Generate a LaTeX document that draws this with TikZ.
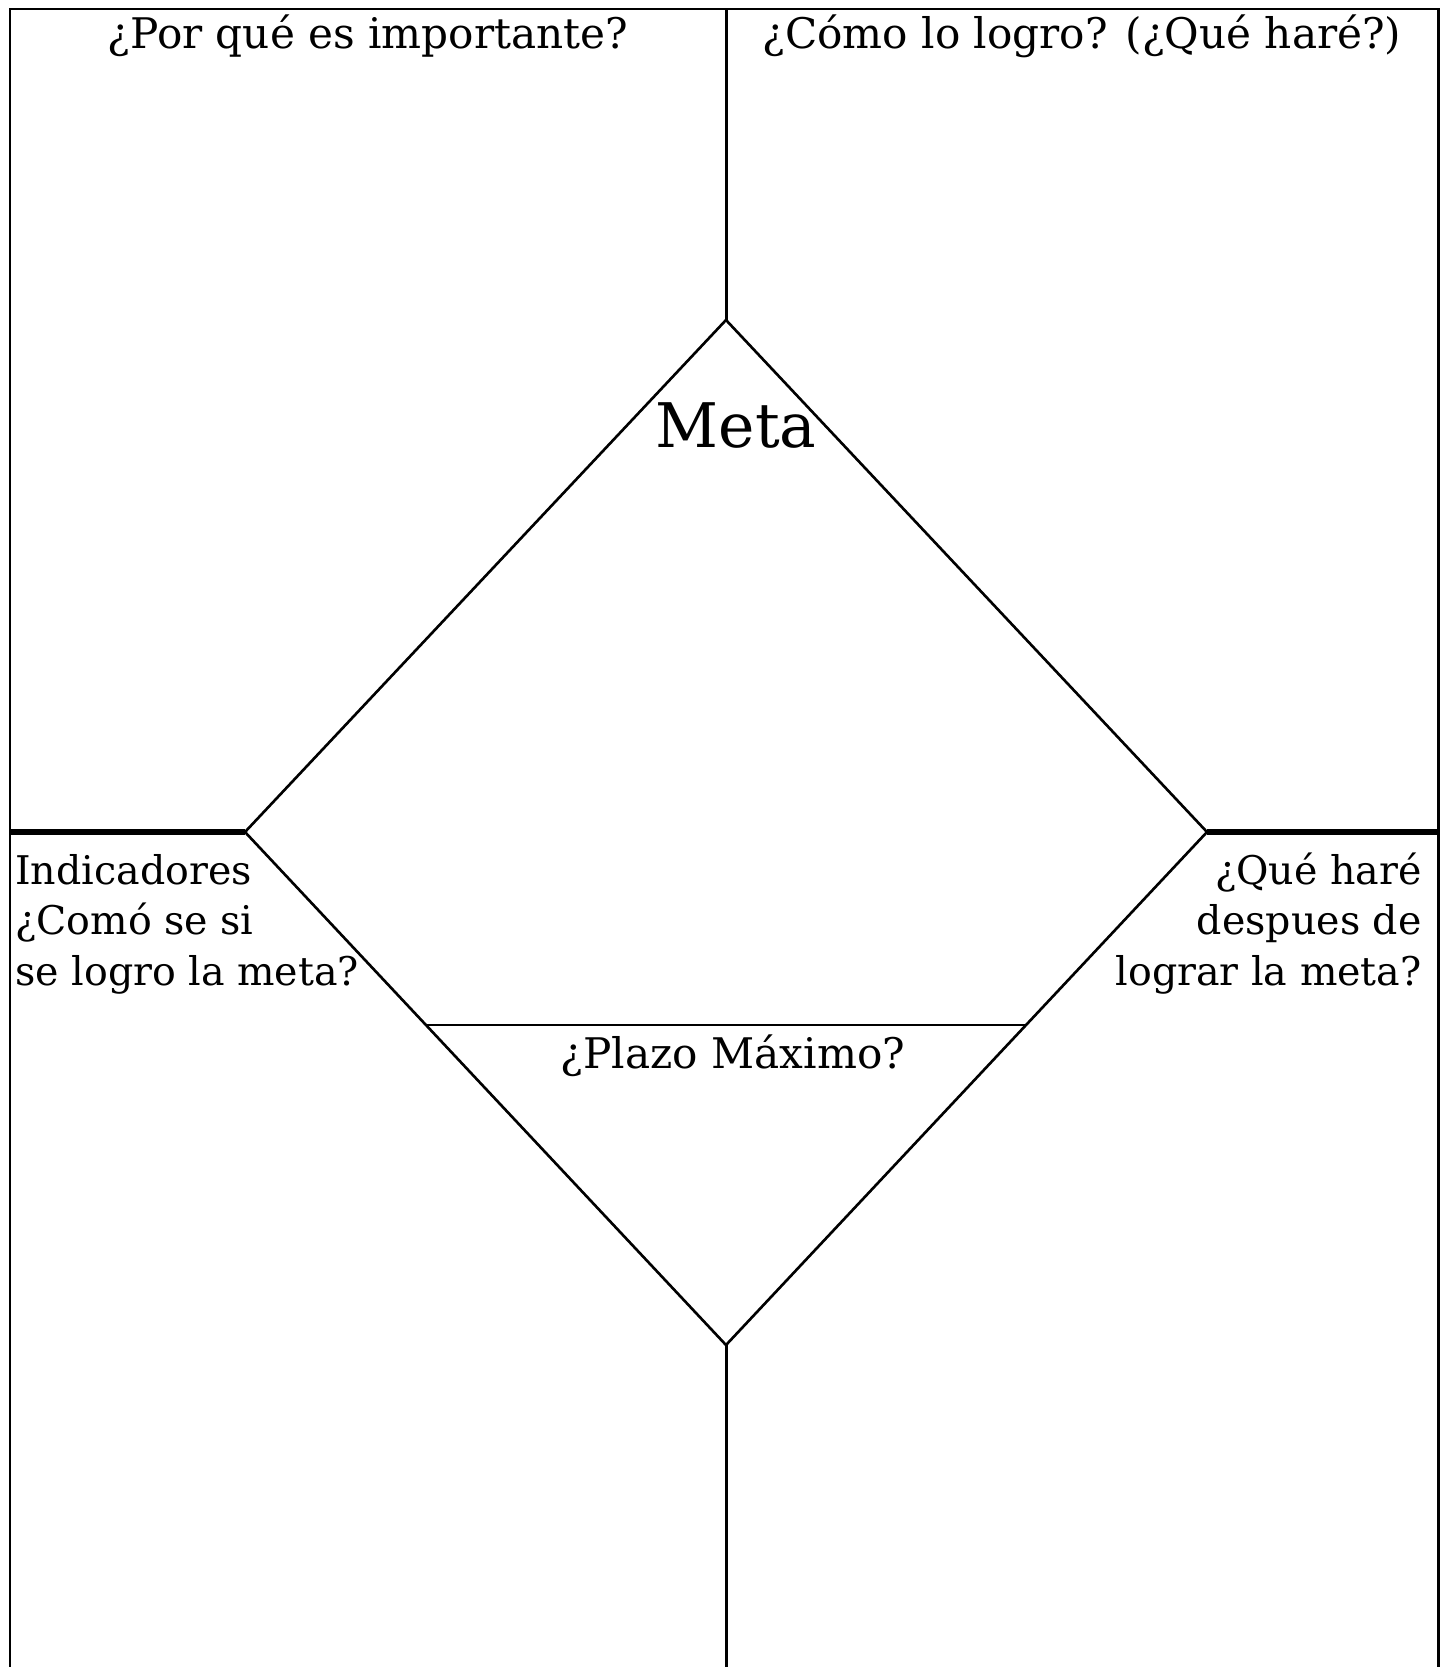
\documentclass[tikz,border=0pt]{standalone}
\usepackage{fontspec}
\setmainfont{DejaVu Serif}
\usetikzlibrary{calc}

\begin{document}
\begin{tikzpicture}[
    x=0.02cm, y=-0.02cm,
    frame/.style={line width=1.7pt},
    divider/.style={line width=3pt},
    edge/.style={line width=1.5pt},
    question/.style={inner sep=0pt, font=\fontsize{24}{28.5}\selectfont},
    side/.style={inner sep=0pt, font=\fontsize{22.5}{28.5}\selectfont},
    goal/.style={inner sep=0pt, font=\fontsize{35}{40}\selectfont}
]
\useasboundingbox (0,0) rectangle (1447,1667);

% corners of the diamond
\coordinate (top) at (726,320);
\coordinate (right) at (1207,832);
\coordinate (bottom) at (726,1345);
\coordinate (left) at (245,832);
\coordinate (plazoL) at ($(left)!0.376!(bottom)$);
\coordinate (plazoR) at ($(right)!0.376!(bottom)$);

% outer frame, open at the bottom
\coordinate (frameTL) at (10,9);
\coordinate (frameTR) at (1438,9);
\coordinate (frameBL) at (10,1667);
\coordinate (frameBR) at (1438,1667);
\draw[frame] (frameBL) -- (frameTL) -- (frameTR) -- (frameBR);

% vertical divider
\coordinate (midT) at (726,9);
\coordinate (midB) at (726,1667);
\draw[frame] (midT) -- (top);
\draw[frame] (bottom) -- (midB);

% horizontal divider
\coordinate (midL) at (10,832);
\coordinate (midR) at (1438,832);
\draw[divider] (midL) -- (left);
\draw[divider] (right) -- (midR);

% diamond
\draw[edge] (top) -- (right) -- (bottom) -- (left) -- cycle;
\draw[edge] (plazoL) -- (plazoR);

% texts
\node[question, anchor=base] (why) at (368,48) {¿Por qué es importante?};
\node[question, anchor=base] (how) at (1082,48) {¿Cómo lo logro? (¿Qué haré?)};
\node[goal, anchor=base] (meta) at (736,447) {Meta};
\node[side, anchor=base west, align=left] (indicators) at (15,985)
    {Indicadores\\¿Comó se si\\se logro la meta?};
\node[side, anchor=base east, align=right] (after) at (1422,985)
    {¿Qué haré\\despues de\\lograr la meta?};
\node[question, anchor=base] (deadline) at (733,1068) {¿Plazo Máximo?};

\end{tikzpicture}
\end{document}
